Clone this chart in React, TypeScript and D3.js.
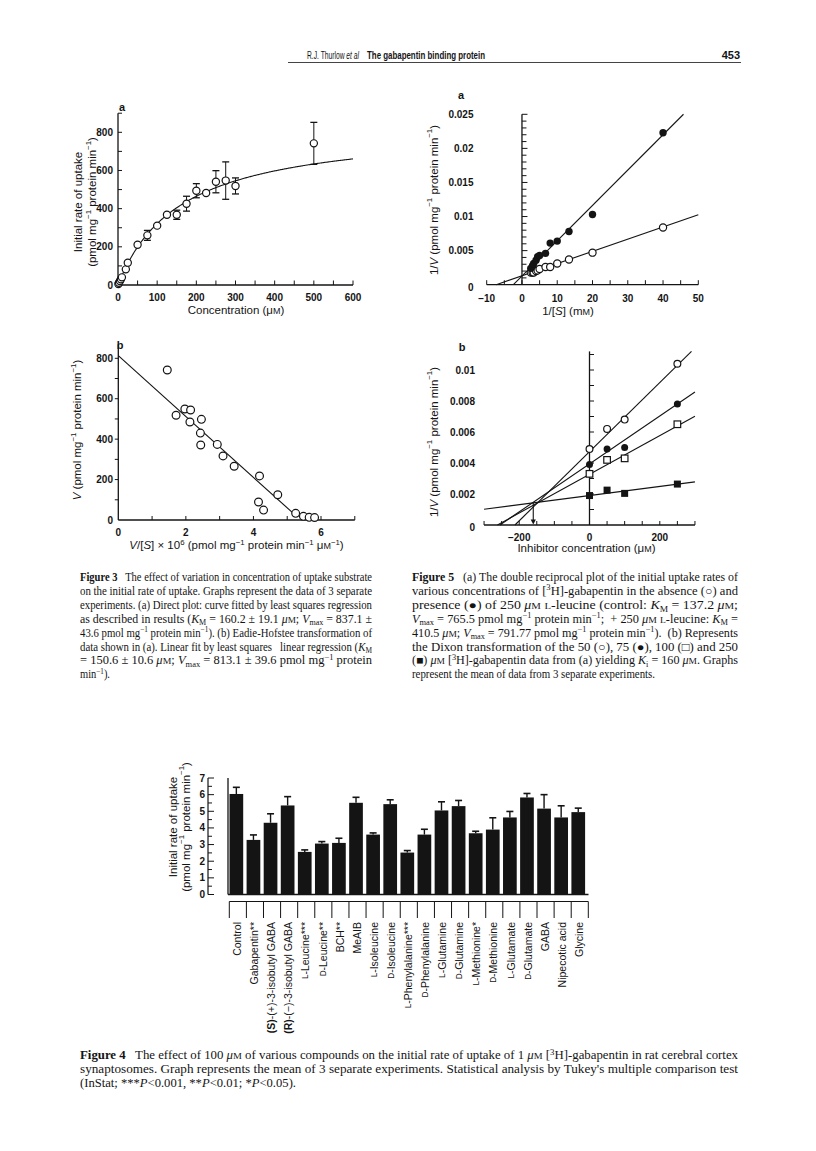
import React from 'react';
import * as d3 from 'd3';

// ---------------- Figure 3a : direct plot ----------------
const conc3a = [1, 2.5, 5, 7.5, 10, 20, 25, 50, 75, 100, 125, 150, 175, 200, 225, 250, 275, 300, 500];
const rate3a = [5, 12, 21, 30, 40, 82, 117, 211, 260, 311, 368, 368, 426, 494, 482, 541, 547, 519, 742];
const err3a = [0, 0, 0, 0, 0, 0, 0, 0, 26, 0, 0, 24, 39, 37, 0, 58, 98, 42, 110];
const KM_3A = 160.2;
const VMAX_3A = 837.1;
const ticks3aX = [0, 100, 200, 300, 400, 500, 600];
const ticks3aY = [0, 200, 400, 600, 800];

// ---------------- Figure 3b : Eadie-Hofstee ----------------
const eh3bX = [1.45, 1.71, 1.97, 2.14, 2.12, 2.46, 2.43, 2.44, 2.93, 3.1, 3.43, 4.18, 4.15, 4.3, 4.72, 5.25, 5.48, 5.65, 5.81];
const eh3bV = [742, 518, 549, 544, 485, 498, 430, 371, 374, 317, 266, 218, 89, 49, 125, 33, 18, 13, 12];
const KM_3B = 150.6;
const VMAX_3B = 813.1;
const ticks3bX = [0, 2, 4, 6];
const ticks3bY = [0, 200, 400, 600, 800];

// ---------------- Figure 5a : double reciprocal ----------------
const invS5a = [2.5, 3, 3.33, 4, 4.44, 5, 6.67, 8, 10, 13.33, 20, 40];
const recipControl = [0.0018, 0.0018, 0.0018, 0.002, 0.0021, 0.0023, 0.0026, 0.0026, 0.0031, 0.0037, 0.0047, 0.0084];
const recipLeucine = [0.0024, 0.0028, 0.0031, 0.0036, 0.0041, 0.0043, 0.0046, 0.0061, 0.0064, 0.0078, 0.0103, 0.0223];
const lbKm = [0.1372, 0.4105];
const lbVmax = [765.5, 791.77];
const lbEnd = [50, 45.8];
const ticks5aX = [-10, 0, 10, 20, 30, 40, 50];
const ticks5aY = [0, 0.005, 0.01, 0.015, 0.02, 0.025];
const labels5aY = ['0', '0.005', '0.01', '0.015', '0.02', '0.025'];

// ---------------- Figure 5b : Dixon ----------------
const inhibitorConc = [0, 50, 100, 250];
const dixon50 = [0.0049, 0.0062, 0.0068, 0.0104];
const dixon75 = [0.0039, 0.0049, 0.005, 0.0078];
const dixon100 = [0.0033, 0.0042, 0.0043, 0.0065];
const dixon250 = [0.0019, 0.00225, 0.00204, 0.00264];
const dixonSlope = [2.23e-5, 1.546e-5, 1.249e-5, 2.95e-6];
const dixonIntercept = [0.00473, 0.00394, 0.00327, 0.0019];
const KI = 160;
const KI_Y = 0.00146;
const ticks5bX = [-200, 0, 200];
const ticks5bY = [0, 0.002, 0.004, 0.006, 0.008, 0.01];
const labels5bY = ['0', '0.002', '0.004', '0.006', '0.008', '0.01'];

// ---------------- Figure 4 : bars ----------------
const compounds = [
  'Control', 'Gabapentin**', '(S)-(+)-3-isobutyl GABA', '(R)-(\u2212)-3-isobutyl GABA', 'L-Leucine***',
  'D-Leucine**', 'BCH**', 'MeAIB', 'L-Isoleucine', 'D-Isoleucine', 'L-Phenylalanine***', 'D-Phenylalanine',
  'L-Glutamine', 'D-Glutamine', 'L-Methionine*', 'D-Methionine', 'L-Glutamate', 'D-Glutamate', 'GABA',
  'Nipecotic acid', 'Glycine',
];
const uptake = [6.04, 3.28, 4.31, 5.35, 2.56, 3.06, 3.1, 5.51, 3.6, 5.43, 2.52, 3.6, 5.05, 5.31, 3.68, 3.9, 4.63, 5.83, 5.16, 4.63, 4.95];
const uptakeErr = [0.4, 0.3, 0.54, 0.53, 0.12, 0.12, 0.28, 0.33, 0.1, 0.26, 0.12, 0.32, 0.52, 0.34, 0.12, 0.71, 0.36, 0.24, 0.84, 0.7, 0.24];
const ticks4Y = [0, 1, 2, 3, 4, 5, 6, 7];

const SANS = "'Liberation Sans', Arial, Helvetica, sans-serif";
const SERIF = "'Liberation Serif', 'Times New Roman', serif";
const INK = '#141414';

type SegO = { t: string; sup?: boolean; sub?: boolean; it?: boolean; b?: boolean; sm?: boolean };
type Seg = string | SegO;

function spans(segs: Seg[], fs: number) {
  let cur = 0;
  return segs.map((s, i) => {
    const o: SegO = typeof s === 'string' ? { t: s } : s;
    const off = o.sup ? -0.38 * fs : o.sub ? 0.24 * fs : 0;
    const dy = off - cur;
    cur = off;
    const size = o.sup || o.sub ? fs * 0.68 : o.sm ? fs * 0.78 : undefined;
    return (
      <tspan key={i} dy={dy !== 0 ? dy : undefined} fontSize={size}
        fontStyle={o.it ? 'italic' : undefined} fontWeight={o.b ? 'bold' : undefined}>{o.t}</tspan>
    );
  });
}

function RText(props: { x: number; y: number; segs: Seg[]; fs: number; anchor?: string; rotate?: boolean; family?: string; width?: number; weight?: string }) {
  const { x, y, segs, fs, anchor = 'start', rotate, family = SANS, width, weight } = props;
  return (
    <text x={x} y={y} fontSize={fs} fontFamily={family} textAnchor={anchor} fill={INK} fontWeight={weight}
      dominantBaseline={rotate ? 'central' : undefined}
      transform={rotate ? `rotate(-90 ${x} ${y})` : undefined}
      textLength={width} lengthAdjust={width ? 'spacingAndGlyphs' : undefined}
      style={{ whiteSpace: 'pre' }}>
      {spans(segs, fs)}
    </text>
  );
}

const MU: Seg[] = [{ t: '\u03bc' }, { t: 'M', sm: true }];
const MUi: Seg[] = [{ t: '\u03bc', it: true }, { t: 'M', sm: true }];
const M1: Seg = { t: '\u22121', sup: true };

function OpenC({ cx, cy, r = 3.6 }: { cx: number; cy: number; r?: number }) {
  return <circle cx={cx} cy={cy} r={r} fill="#fff" stroke={INK} strokeWidth={1.2} />;
}

function Fig3a() {
  const x = d3.scaleLinear().domain([0, 600]).range([118, 353]);
  const y = d3.scaleLinear().domain([0, 800]).range([285, 132.3]);
  const line = d3.line<number>().x((c) => x(c)).y((c) => y((VMAX_3A * c) / (KM_3A + c)));
  const cs = d3.range(0, 600.1, 2);
  return (
    <g stroke={INK} strokeWidth={1}>
      <line x1={x(0)} x2={x(0)} y1={y(0)} y2={y(900)} strokeWidth={1.3} />
      <line x1={x(0)} x2={x(600)} y1={y(0)} y2={y(0)} strokeWidth={1.3} />
      {d3.range(100, 901, 100).map((v) => <line key={v} x1={x(0)} x2={x(0) + 4} y1={y(v)} y2={y(v)} />)}
      {d3.range(50, 601, 50).map((v) => <line key={v} x1={x(v)} x2={x(v)} y1={y(0)} y2={y(0) - 4.5} />)}
      <g stroke="none" fontSize={10} fontWeight="bold" fontFamily={SANS} fill={INK}>
        {ticks3aY.map((v) => <text key={v} x={113} y={y(v) + 3.5} textAnchor="end">{v}</text>)}
        {ticks3aX.map((v) => <text key={v} x={x(v)} y={301} textAnchor="middle">{v}</text>)}
        <text x={122} y={110.5} textAnchor="middle" fontSize={11}>a</text>
      </g>
      <path d={line(cs) || ''} fill="none" strokeWidth={1.1} />
      {conc3a.map((c, i) => err3a[i] > 0 && (
        <g key={i}>
          <line x1={x(c)} x2={x(c)} y1={y(rate3a[i] - err3a[i])} y2={y(rate3a[i] + err3a[i])} />
          <line x1={x(c) - 3.5} x2={x(c) + 3.5} y1={y(rate3a[i] + err3a[i])} y2={y(rate3a[i] + err3a[i])} strokeWidth={1.3} />
          <line x1={x(c) - 3.5} x2={x(c) + 3.5} y1={y(rate3a[i] - err3a[i])} y2={y(rate3a[i] - err3a[i])} strokeWidth={1.3} />
        </g>
      ))}
      {conc3a.map((c, i) => <OpenC key={i} cx={x(c)} cy={y(rate3a[i])} />)}
      <g stroke="none">
        <RText x={236} y={314} anchor="middle" fs={11.5} segs={['Concentration (', ...MU, ')']} />
        <RText x={78.3} y={202} anchor="middle" fs={11.5} rotate segs={['Initial rate of uptake']} />
        <RText x={92.3} y={202} anchor="middle" fs={11.5} rotate segs={['(pmol mg', M1, ' protein min', M1, ')']} />
      </g>
    </g>
  );
}

function Fig3b() {
  const x = d3.scaleLinear().domain([0, 6]).range([118.3, 321]);
  const y = d3.scaleLinear().domain([0, 800]).range([520, 358.3]);
  const xEnd = 5.2;
  return (
    <g stroke={INK} strokeWidth={1}>
      <line x1={x(0)} x2={x(0)} y1={y(0)} y2={y(870)} strokeWidth={1.3} />
      <line x1={x(0)} x2={x(7)} y1={y(0)} y2={y(0)} strokeWidth={1.3} />
      {d3.range(100, 801, 100).map((v) => <line key={v} x1={x(0) - 3.5} x2={x(0)} y1={y(v)} y2={y(v)} />)}
      {d3.range(1, 8, 1).map((v) => <line key={v} x1={x(v)} x2={x(v)} y1={y(0)} y2={y(0) - 4} />)}
      <g stroke="none" fontSize={10} fontWeight="bold" fontFamily={SANS} fill={INK}>
        {ticks3bY.map((v) => <text key={v} x={113} y={y(v) + 3.5} textAnchor="end">{v}</text>)}
        {ticks3bX.map((v) => <text key={v} x={x(v)} y={536} textAnchor="middle">{v}</text>)}
        <text x={120} y={349} textAnchor="middle" fontSize={11}>b</text>
      </g>
      <line x1={x(0)} y1={y(VMAX_3B)} x2={x(xEnd)} y2={y(VMAX_3B - KM_3B * xEnd)} strokeWidth={1.1} />
      {eh3bX.map((v, i) => <OpenC key={i} cx={x(v)} cy={y(eh3bV[i])} r={3.9} />)}
      <g stroke="none">
        <RText x={236.5} y={549} anchor="middle" fs={11.5}
          segs={[{ t: 'V', it: true }, '/[', { t: 'S', it: true }, '] \u00d7 10', { t: '6', sup: true }, ' (pmol mg', M1, ' protein min', M1, ' ', { t: '\u03bc' }, { t: 'M', sm: true }, M1, ')']} />
        <RText x={77} y={430} anchor="middle" fs={11.5} rotate
          segs={[{ t: 'V', it: true }, ' (pmol mg', M1, ' protein min', M1, ')']} />
      </g>
    </g>
  );
}

function Fig5a() {
  const x = d3.scaleLinear().domain([-10, 50]).range([486.7, 698.3]);
  const y = d3.scaleLinear().domain([0, 0.025]).range([284.7, 114.3]);
  return (
    <g stroke={INK} strokeWidth={1}>
      <line x1={x(0)} x2={x(0)} y1={y(0)} y2={y(0.025)} strokeWidth={1.3} />
      <line x1={x(-10)} x2={x(50)} y1={y(0)} y2={y(0)} strokeWidth={1.3} />
      {d3.range(1, 26, 1).map((k) => <line key={k} x1={x(0)} x2={x(0) + (k % 5 === 0 ? 5.5 : 4.5)} y1={y(k * 0.001)} y2={y(k * 0.001)} />)}
      {d3.range(-10, 51, 5).map((v) => <line key={v} x1={x(v)} x2={x(v)} y1={y(0)} y2={y(0) - 4.5} />)}
      <g stroke="none" fontSize={10} fontWeight="bold" fontFamily={SANS} fill={INK}>
        {ticks5aY.map((v, i) => <text key={v} x={473.5} y={y(v) + 3.5 + (i === 0 ? 3 : 0)} textAnchor="end">{labels5aY[i]}</text>)}
        {ticks5aX.map((v) => <text key={v} x={x(v)} y={302} textAnchor="middle">{v < 0 ? '\u2212' + Math.abs(v) : v}</text>)}
        <text x={461} y={99} textAnchor="middle" fontSize={11}>a</text>
      </g>
      {lbKm.map((km, i) => (
        <line key={i} x1={x(-1 / km)} y1={y(0)} x2={x(lbEnd[i])} y2={y(1 / lbVmax[i] + (km / lbVmax[i]) * lbEnd[i])} strokeWidth={1.1} />
      ))}
      {invS5a.map((v, i) => <OpenC key={'o' + i} cx={x(v)} cy={y(recipControl[i])} />)}
      {invS5a.map((v, i) => <circle key={'f' + i} cx={x(v)} cy={y(recipLeucine[i])} r={3.7} fill={INK} stroke="none" />)}
      <g stroke="none">
        <RText x={568} y={315} anchor="middle" fs={11.5}
          segs={['1/[', { t: 'S', it: true }, '] (m', { t: 'M', sm: true }, ')']} />
        <RText x={433.5} y={200} anchor="middle" fs={11.5} rotate
          segs={['1/', { t: 'V', it: true }, ' (pmol mg', M1, ' protein min', M1, ')']} />
      </g>
    </g>
  );
}

function Fig5b() {
  const x = d3.scaleLinear().domain([-300, 300]).range([484.05, 694.95]);
  const y = d3.scaleLinear().domain([0, 0.01]).range([525, 370]);
  const yTop = 0.0112;
  const series = [dixon50, dixon75, dixon100, dixon250];
  return (
    <g stroke={INK} strokeWidth={1}>
      <line x1={x(0)} x2={x(0)} y1={y(0)} y2={y(yTop)} strokeWidth={1.3} />
      <line x1={x(-300)} x2={x(300)} y1={y(0)} y2={y(0)} strokeWidth={1.3} />
      {d3.range(1, 12, 1).map((k) => <line key={k} x1={x(0)} x2={x(0) + 4.5} y1={y(k * 0.001)} y2={y(k * 0.001)} />)}
      {d3.range(-300, 301, 50).map((v) => <line key={v} x1={x(v)} x2={x(v)} y1={y(0)} y2={y(0) - 4} />)}
      <g stroke="none" fontSize={10} fontWeight="bold" fontFamily={SANS} fill={INK}>
        {ticks5bY.map((v, i) => <text key={v} x={475} y={y(v) + 3.5 + (i === 0 ? 2 : 0)} textAnchor="end">{labels5bY[i]}</text>)}
        {ticks5bX.map((v) => <text key={v} x={x(v)} y={540.5} textAnchor="middle">{v < 0 ? '\u2212' + Math.abs(v) : v}</text>)}
        <text x={462} y={350.5} textAnchor="middle" fontSize={11}>b</text>
      </g>
      {dixonSlope.map((s, i) => {
        const b = dixonIntercept[i];
        const x1 = Math.max(-300, -b / s);
        const x2 = Math.min(300, (yTop - b) / s);
        return <line key={i} x1={x(x1)} y1={y(b + s * x1)} x2={x(x2)} y2={y(b + s * x2)} strokeWidth={1.1} />;
      })}
      <line x1={x(-KI)} x2={x(-KI)} y1={y(KI_Y)} y2={y(0) - 4} strokeWidth={1.1} />
      <path d={`M${x(-KI) - 2.6},${y(0) - 5.5} L${x(-KI) + 2.6},${y(0) - 5.5} L${x(-KI)},${y(0) - 0.5} Z`} fill={INK} stroke="none" />
      {inhibitorConc.map((c, i) => <OpenC key={'a' + i} cx={x(c)} cy={y(series[0][i])} r={3.4} />)}
      {inhibitorConc.map((c, i) => <circle key={'b' + i} cx={x(c)} cy={y(series[1][i])} r={3.5} fill={INK} stroke="none" />)}
      {inhibitorConc.map((c, i) => <rect key={'c' + i} x={x(c) - 3.3} y={y(series[2][i]) - 3.3} width={6.6} height={6.6} fill="#fff" strokeWidth={1.2} />)}
      {inhibitorConc.map((c, i) => <rect key={'d' + i} x={x(c) - 3.5} y={y(series[3][i]) - 3.5} width={7} height={7} fill={INK} stroke="none" />)}
      <g stroke="none">
        <RText x={586.5} y={552} anchor="middle" fs={11.5} segs={['Inhibitor concentration (', ...MU, ')']} />
        <RText x={433.5} y={442} anchor="middle" fs={11.5} rotate
          segs={['1/', { t: 'V', it: true }, ' (pmol mg', M1, ' protein min', M1, ')']} />
      </g>
    </g>
  );
}

function compoundSegs(name: string): Seg[] {
  const m = name.match(/^\(([SR])\)(.*)$/);
  if (m) return [{ t: `(${m[1]})`, b: true }, m[2]];
  const l = name.match(/^([LD])(-.*)$/);
  if (l) return [{ t: l[1], sm: true }, l[2]];
  return [name];
}

function Fig4() {
  const x = d3.scaleBand<string>().domain(compounds).range([229.3, 588.3]);
  const y = d3.scaleLinear().domain([0, 7]).range([894.5, 778]);
  const bw = 13.7;
  const ruler = 208;
  return (
    <g stroke={INK} strokeWidth={1}>
      <line x1={ruler} x2={ruler} y1={y(0)} y2={y(7)} strokeWidth={1.2} />
      {d3.range(0, 7.01, 0.5).map((v) => <line key={v} x1={ruler} x2={ruler + (v % 1 === 0 ? 6 : 4)} y1={y(v)} y2={y(v)} />)}
      <g stroke="none" fontSize={10} fontWeight="bold" fontFamily={SANS} fill={INK}>
        {ticks4Y.map((v) => <text key={v} x={205} y={y(v) + 3.5} textAnchor="end">{v}</text>)}
      </g>
      <line x1={228} x2={228} y1={y(0)} y2={y(7)} strokeWidth={1.3} />
      <line x1={228} x2={588.5} y1={y(0)} y2={y(0)} strokeWidth={1.5} />
      {compounds.map((c, i) => {
        const left = (x(c) as number) + 0.2;
        const cx = left + bw / 2;
        const top = y(uptake[i]);
        const et = y(uptake[i] + uptakeErr[i]);
        return (
          <g key={c}>
            <rect x={left} y={top} width={bw} height={y(0) - top} fill={INK} stroke="none" />
            <line x1={cx} x2={cx} y1={top} y2={et} strokeWidth={1.4} />
            <line x1={cx - 3.5} x2={cx + 3.5} y1={et} y2={et} strokeWidth={1.6} />
          </g>
        );
      })}
      <line x1={229.3} x2={588.3} y1={901.5} y2={901.5} />
      {d3.range(0, compounds.length + 1).map((k) => {
        const xx = 229.3 + k * x.bandwidth();
        return <line key={k} x1={xx} x2={xx} y1={901.5} y2={918} />;
      })}
      <g stroke="none">
        {compounds.map((c) => (
          <RText key={c} x={(x(c) as number) + x.bandwidth() / 2 - 0.8} y={922} anchor="end" fs={10.5} rotate segs={compoundSegs(c)} />
        ))}
        <RText x={173} y={827} anchor="middle" fs={11.5} rotate segs={['Initial rate of uptake']} />
        <RText x={185.5} y={827} anchor="middle" fs={11.5} rotate segs={['(pmol mg', M1, ' protein min', M1, ')']} />
      </g>
    </g>
  );
}

const cap3: Seg[][] = [
  [{ t: 'Figure 3', b: true }, '   The effect of variation in concentration of uptake substrate'],
  ['on the initial rate of uptake. Graphs represent the data of 3 separate'],
  ['experiments. (a) Direct plot: curve fitted by least squares regression'],
  ['as described in results (', { t: 'K', it: true }, { t: 'M', sub: true }, ' = 160.2 \u00b1 19.1 ', ...MUi, '; ', { t: 'V', it: true }, { t: 'max', sub: true }, ' = 837.1 \u00b1'],
  ['43.6 pmol mg', M1, ' protein min', M1, '). (b) Eadie-Hofstee transformation of'],
  ['data shown in (a). Linear fit by least squares   linear regression (', { t: 'K', it: true }, { t: 'M', sub: true }],
  ['= 150.6 \u00b1 10.6 ', ...MUi, '; ', { t: 'V', it: true }, { t: 'max', sub: true }, ' = 813.1 \u00b1 39.6 pmol mg', M1, ' protein'],
  ['min', M1, ').'],
];
const cap3Widths = [292, 292, 292, 292, 292, 292, 292, 30];

const cap5: Seg[][] = [
  [{ t: 'Figure 5', b: true }, '   (a) The double reciprocal plot of the initial uptake rates of'],
  ['various concentrations of [', { t: '3', sup: true }, 'H]-gabapentin in the absence (\u25cb) and'],
  ['presence (\u25cf) of 250 ', ...MUi, ' ', { t: 'L', sm: true }, '-leucine (control: ', { t: 'K', it: true }, { t: 'M', sub: true }, ' = 137.2 ', ...MUi, ';'],
  [{ t: 'V', it: true }, { t: 'max', sub: true }, ' = 765.5 pmol mg', M1, ' protein min', M1, ';  + 250 ', ...MUi, ' ', { t: 'L', sm: true }, '-leucine: ', { t: 'K', it: true }, { t: 'M', sub: true }, ' ='],
  ['410.5 ', ...MUi, '; ', { t: 'V', it: true }, { t: 'max', sub: true }, ' = 791.77 pmol mg', M1, ' protein min', M1, ').  (b) Represents'],
  ['the Dixon transformation of the 50 (\u25cb), 75 (\u25cf), 100 (\u25a1) and 250'],
  ['(\u25a0) ', ...MUi, ' [', { t: '3', sup: true }, 'H]-gabapentin data from (a) yielding ', { t: 'K', it: true }, { t: 'i', sub: true }, ' = 160 ', ...MUi, '. Graphs'],
  ['represent the mean of data from 3 separate experiments.'],
];
const cap5Widths = [326, 326, 326, 326, 326, 326, 326, 243];

const cap4: Seg[][] = [
  [{ t: 'Figure 4', b: true }, '   The effect of 100 ', ...MUi, ' of various compounds on the initial rate of uptake of 1 ', ...MUi, ' [', { t: '3', sup: true }, 'H]-gabapentin in rat cerebral cortex'],
  ["synaptosomes. Graph represents the mean of 3 separate experiments. Statistical analysis by Tukey's multiple comparison test"],
  ['(InStat; ***', { t: 'P', it: true }, '<0.001, **', { t: 'P', it: true }, '<0.01; *', { t: 'P', it: true }, '<0.05).'],
];
const cap4Widths = [658, 658, 216];

function Caption({ lines, widths, x, y0, step, fs }: { lines: Seg[][]; widths: number[]; x: number; y0: number; step: number; fs: number }) {
  return (
    <g>
      {lines.map((segs, i) => (
        <RText key={i} x={x} y={y0 + i * step} fs={fs} family={SERIF} segs={segs} width={widths[i]} />
      ))}
    </g>
  );
}

export default function App() {
  return (
    <svg width={816} height={1151} viewBox="0 0 816 1151"
      style={{ position: 'absolute', left: 0, top: 0, background: '#fff' }}>
      <rect x={0} y={0} width={816} height={1151} fill="#fff" />
      {/* running header */}
      <g fontFamily={SANS} fontSize={11} fill={INK}>
        <text x={307} y={58.5} textLength={52} lengthAdjust="spacingAndGlyphs">R.J. Thurlow <tspan fontStyle="italic">et al</tspan></text>
        <text x={367} y={58.5} fontWeight="bold" textLength={118} lengthAdjust="spacingAndGlyphs">The gabapentin binding protein</text>
        <text x={740} y={58.5} fontWeight="bold" textAnchor="end">453</text>
      </g>
      <line x1={288} x2={741} y1={62.5} y2={62.5} stroke={INK} strokeWidth={0.8} />
      <Fig3a />
      <Fig3b />
      <Fig5a />
      <Fig5b />
      <Caption lines={cap3} widths={cap3Widths} x={80} y0={581} step={13.9} fs={11.6} />
      <Caption lines={cap5} widths={cap5Widths} x={412} y0={581} step={13.9} fs={11.6} />
      <Fig4 />
      <Caption lines={cap4} widths={cap4Widths} x={80} y0={1059} step={14} fs={11.8} />
    </svg>
  );
}
